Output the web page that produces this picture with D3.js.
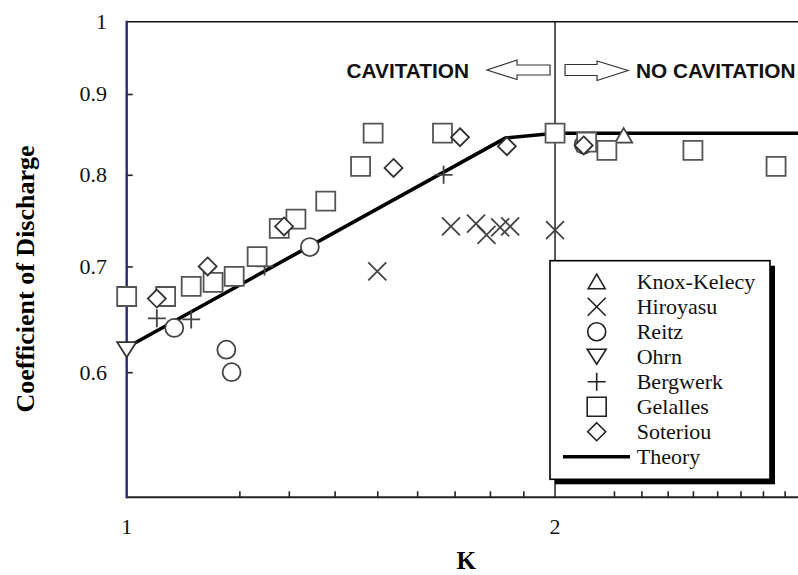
<!DOCTYPE html>
<html>
<head>
<meta charset="utf-8">
<script src="https://cdn.jsdelivr.net/npm/d3@7"></script>
<style>
  html, body { margin: 0; padding: 0; background: #fff; }
  svg { display: block; }
</style>
</head>
<body>
<svg id="chart" width="798" height="575"></svg>
<script>
// Measured discharge coefficients [K, Cd] from each experimental study
const knoxKelecy = [[2.235, 0.847]];
const hiroyasu = [[1.50, 0.695], [1.69, 0.742], [1.76, 0.745], [1.79, 0.733], [1.83, 0.741], [1.86, 0.742], [2.0, 0.738]];
const reitz = [[1.0, 0.67], [1.08, 0.64], [1.175, 0.62], [1.185, 0.60], [1.345, 0.72], [2.095, 0.836]];
const ohrn = [[1.0, 0.62]];
const bergwerk = [[1.05, 0.649], [1.11, 0.648], [1.25, 0.70], [1.67, 0.80]];
const gelalles = [[1.0, 0.67], [1.065, 0.67], [1.11, 0.68], [1.15, 0.684], [1.19, 0.69], [1.235, 0.71],
  [1.28, 0.74], [1.315, 0.75], [1.38, 0.77], [1.46, 0.81], [1.49, 0.85], [1.667, 0.85], [2.0, 0.85],
  [2.105, 0.839], [2.175, 0.829], [2.5, 0.829], [2.86, 0.81]];
const soteriou = [[1.05, 0.668], [1.14, 0.70], [1.29, 0.742], [1.54, 0.808], [1.715, 0.845], [1.85, 0.834], [2.095, 0.835]];

// Theory curve vertices [K, Cd]
const theory = [[1.0, 0.622], [1.845, 0.844], [2.0, 0.85], [3.0, 0.85]];

// Axis ticks
const xDomain = [1, 3];
const yDomain = [0.5, 1];
const xTickMarks = [1.2, 1.3, 1.4, 1.5, 1.6, 1.7, 1.8, 1.9, 2.2, 2.3, 2.4, 2.5, 2.6, 2.7, 2.8, 2.9];
const xTickLabels = [1, 2];
const yTickMarks = [0.6, 0.7, 0.8, 0.9];
const yTickLabels = [1, 0.9, 0.8, 0.7, 0.6];

// Critical cavitation number separating the two regimes
const kCritical = 2;

const legendNames = ["Knox-Kelecy", "Hiroyasu", "Reitz", "Ohrn", "Bergwerk", "Gelalles", "Soteriou", "Theory"];

const svg = d3.select("#chart");
const plotL = 126.7, plotR = 805.6, plotT = 21.7, plotB = 497.3;

const x = d3.scaleLog().domain(xDomain).range([plotL, plotR]);
const y = d3.scaleLog().domain(yDomain).range([plotB, plotT]);

const serif = "'Liberation Serif', 'Times New Roman', serif";
const sans = "'Liberation Sans', Arial, sans-serif";

// Marker shapes, drawn around (0,0)
const markers = {
  triUp: "M0,-7.5L8.5,7L-8.5,7Z",
  triDown: "M-9.5,-7.5L9.5,-7.5L0,7.5Z",
  cross: "M-9,-9L9,9M-9,9L9,-9",
  circle: d3.symbol().type(d3.symbolCircle).size(Math.PI * 81)(),
  plus: "M-9,0L9,0M0,-9L0,9",
  square: "M-9.5,-9.5H9.5V9.5H-9.5Z",
  diamond: "M0,-9L9,0L0,9L-9,0Z"
};

// Frame: top and right borders
svg.append("line").attr("x1", plotL).attr("x2", plotR).attr("y1", plotT).attr("y2", plotT)
  .attr("stroke", "#111").attr("stroke-width", 1.6);
svg.append("line").attr("x1", plotR).attr("x2", plotR).attr("y1", plotT).attr("y2", plotB)
  .attr("stroke", "#111").attr("stroke-width", 1.6);

// Regime boundary
svg.append("line").attr("x1", x(kCritical)).attr("x2", x(kCritical)).attr("y1", plotT).attr("y2", plotB)
  .attr("stroke", "#111").attr("stroke-width", 1.4);

// X axis
const xAxis = d3.axisBottom(x).tickValues(xTickMarks).tickSize(-6).tickFormat("");
const gx = svg.append("g").attr("transform", `translate(0,${plotB})`).call(xAxis);
gx.select(".domain").remove();
gx.selectAll(".tick line").attr("stroke", "#222").attr("stroke-width", 1.6);
svg.append("line").attr("x1", plotL).attr("x2", plotR).attr("y1", plotB).attr("y2", plotB)
  .attr("stroke", "#222").attr("stroke-width", 2);
svg.append("g").selectAll("text").data(xTickLabels).join("text")
  .attr("x", d => x(d)).attr("y", 534)
  .attr("text-anchor", "middle")
  .attr("font-family", serif).attr("font-size", 22).attr("fill", "#111")
  .text(d => d);

// Y axis
const yAxis = d3.axisLeft(y).tickValues(yTickMarks).tickSize(-6).tickFormat("");
const gy = svg.append("g").attr("transform", `translate(${plotL},0)`).call(yAxis);
gy.select(".domain").remove();
gy.selectAll(".tick line").attr("stroke", "#222").attr("stroke-width", 1.6);
svg.append("line").attr("x1", plotL).attr("x2", plotL).attr("y1", plotT - 1).attr("y2", plotB + 1)
  .attr("stroke", "#2a2a66").attr("stroke-width", 2.4);
svg.append("g").selectAll("text").data(yTickLabels).join("text")
  .attr("x", 107).attr("y", d => y(d) + 7.5)
  .attr("text-anchor", "end")
  .attr("font-family", serif).attr("font-size", 22).attr("fill", "#111")
  .text(d => d);

// Axis titles
svg.append("text")
  .attr("transform", "translate(34,279) rotate(-90)")
  .attr("text-anchor", "middle")
  .attr("font-family", serif).attr("font-weight", "bold").attr("font-size", 26).attr("fill", "#000")
  .text("Coefficient of Discharge");
svg.append("text")
  .attr("x", (plotL + plotR) / 2).attr("y", 569)
  .attr("text-anchor", "middle")
  .attr("font-family", serif).attr("font-weight", "bold").attr("font-size", 25).attr("fill", "#000")
  .text("K");

// Regime annotations with hollow arrows
const xc = x(kCritical);
svg.append("text").attr("x", xc - 86).attr("y", 77.5).attr("text-anchor", "end")
  .attr("font-family", sans).attr("font-weight", "bold").attr("font-size", 20.8).attr("fill", "#111")
  .text("CAVITATION");
svg.append("text").attr("x", xc + 81).attr("y", 77.5).attr("text-anchor", "start")
  .attr("font-family", sans).attr("font-weight", "bold").attr("font-size", 20.8).attr("fill", "#111")
  .text("NO CAVITATION");
const arrowL = [[xc - 5, 65], [xc - 38, 65], [xc - 38, 60], [xc - 68, 70], [xc - 38, 79.5], [xc - 38, 75], [xc - 5, 75]];
const arrowR = [[xc + 10, 64.5], [xc + 42, 64.5], [xc + 42, 61], [xc + 73, 70.5], [xc + 42, 80.5], [xc + 42, 75.5], [xc + 10, 75.5]];
[arrowL, arrowR].forEach(pts => {
  svg.append("path").attr("d", d3.line()(pts) + "Z")
    .attr("fill", "#fff").attr("stroke", "#333").attr("stroke-width", 1.2);
});

// Theory line
svg.append("path").datum(theory)
  .attr("d", d3.line().x(d => x(d[0])).y(d => y(d[1])))
  .attr("fill", "none").attr("stroke", "#000").attr("stroke-width", 3.6).attr("stroke-linejoin", "round");

// Data markers
const series = [
  { data: knoxKelecy, shape: "triUp", stroke: "#444", fill: "#fff" },
  { data: hiroyasu, shape: "cross", stroke: "#444", fill: "none" },
  { data: reitz, shape: "circle", stroke: "#444", fill: "#fff" },
  { data: ohrn, shape: "triDown", stroke: "#333", fill: "#fff" },
  { data: bergwerk, shape: "plus", stroke: "#444", fill: "none" },
  { data: gelalles, shape: "square", stroke: "#555", fill: "#fff" },
  { data: soteriou, shape: "diamond", stroke: "#333", fill: "#fff" }
];
series.forEach(s => {
  svg.append("g").selectAll("path").data(s.data).join("path")
    .attr("transform", d => `translate(${x(d[0])},${y(d[1])})`)
    .attr("d", markers[s.shape])
    .attr("fill", s.fill).attr("stroke", s.stroke).attr("stroke-width", 1.8);
});

// Legend
const lg = svg.append("g").attr("transform", "translate(550,260.7)");
const lw = 220, lh = 218.6;
lg.append("rect").attr("x", 5).attr("y", 5).attr("width", lw).attr("height", lh).attr("fill", "#000");
lg.append("rect").attr("width", lw).attr("height", lh).attr("fill", "#fff").attr("stroke", "#000").attr("stroke-width", 1.6);
const shapes = ["triUp", "cross", "circle", "triDown", "plus", "square", "diamond"];
legendNames.forEach((name, i) => {
  const cy = 21 + i * 25;
  if (i < shapes.length) {
    lg.append("path").attr("transform", `translate(46.7,${cy})`).attr("d", markers[shapes[i]])
      .attr("fill", "none").attr("stroke", "#222").attr("stroke-width", 1.6);
  } else {
    lg.append("line").attr("x1", 13).attr("x2", 80).attr("y1", cy).attr("y2", cy)
      .attr("stroke", "#000").attr("stroke-width", 3.6);
  }
  lg.append("text").attr("x", 86.7).attr("y", cy + 7.5)
    .attr("font-family", serif).attr("font-size", 22).attr("fill", "#111")
    .text(name);
});
</script>
</body>
</html>
